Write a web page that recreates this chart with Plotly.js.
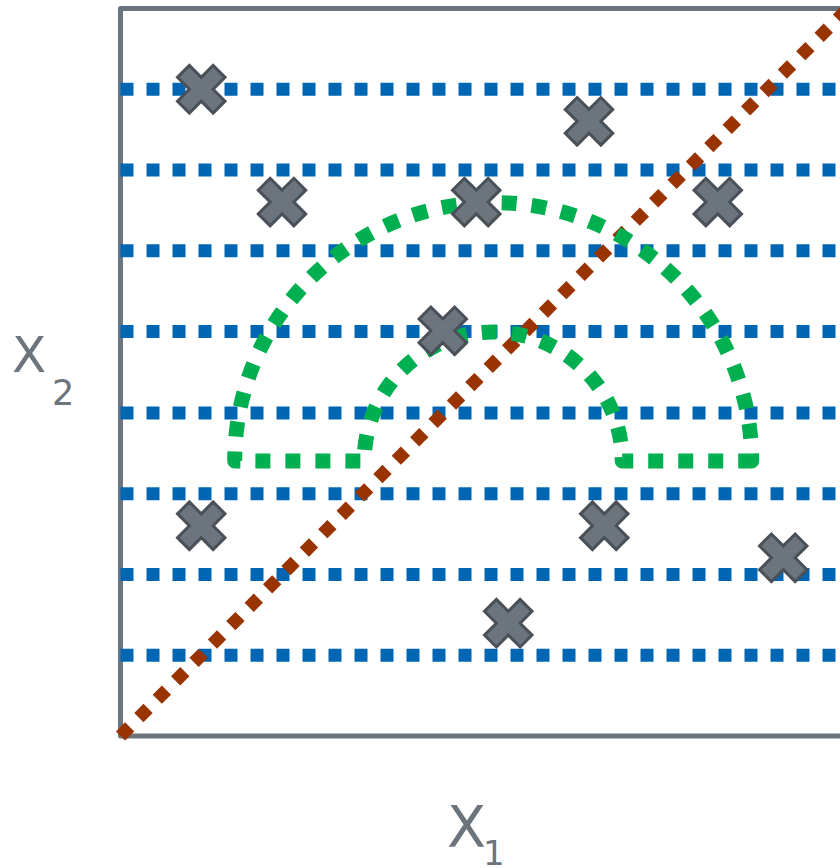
<!DOCTYPE html>
<html><head><meta charset="utf-8">
<script src="https://cdn.plot.ly/plotly-3.0.1.min.js"></script>
<style>
html,body{margin:0;padding:0;overflow:hidden;background:#fff;}
#chart{width:870px;height:868px;}
.shapelayer path{stroke-linejoin:round;}
</style></head><body><div id="chart"></div>
<script>
// Horizontal dotted levels (x2 values)
const levelY = [0.111, 0.222, 0.333, 0.444, 0.556, 0.667, 0.778, 0.889];
// Sample points (x1, x2)
const pointsX = [0.111, 0.644, 0.222, 0.489, 0.821, 0.443, 0.111, 0.665, 0.911, 0.533];
const pointsY = [0.889, 0.845, 0.734, 0.734, 0.734, 0.557, 0.289, 0.289, 0.245, 0.155];
// Diagonal boundary
const diagX = [0, 1];
const diagY = [0, 1];
// Half-annulus boundary: centre and radii (outer, inner)
const arcCenterX = 0.5123;
const arcCenterY = 0.378;
const arcRadii = [0.3553, 0.1773];
// Axis title texts: main letter and subscript
const xTitle = ['X', '1'];
const yTitle = ['X', '2'];

const GRAY = '#6c757d';
const FONT = '"DejaVu Sans", sans-serif';
const W = 870, H = 868, ML = 106, MB = 118, MT = 0, MR = 0;
const U = 727.5; // pixels per unit
const xRange = [(ML - 120.5) / U, (W - 120.5) / U];
const yRange = [(736 - (H - MB)) / U, 736 / U];

function semiAnnulus(cx, cy, R, r, lead) {
  const k = 0.5523;
  const P = (x, y) => x.toFixed(5) + ',' + y.toFixed(5);
  return 'M' + P(cx + R - lead, cy) + ' L' + P(cx + R, cy) +
    ' C' + P(cx + R, cy + k * R) + ' ' + P(cx + k * R, cy + R) + ' ' + P(cx, cy + R) +
    ' C' + P(cx - k * R, cy + R) + ' ' + P(cx - R, cy + k * R) + ' ' + P(cx - R, cy) +
    ' L' + P(cx - r, cy) +
    ' C' + P(cx - r, cy + k * r) + ' ' + P(cx - k * r, cy + r) + ' ' + P(cx, cy + r) +
    ' C' + P(cx + k * r, cy + r) + ' ' + P(cx + r, cy + k * r) + ' ' + P(cx + r, cy) +
    ' L' + P(cx + R - lead, cy);
}

const shapes = [];
shapes.push({type: 'rect', xref: 'x', yref: 'y', x0: diagX[0], x1: diagX[1], y0: diagY[0], y1: diagY[1],
  line: {color: GRAY, width: 5}, fillcolor: 'rgba(0,0,0,0)', layer: 'below'});
levelY.forEach(v => shapes.push({type: 'line', xref: 'x', yref: 'y', x0: diagX[0], x1: diagX[1], y0: v, y1: v,
  line: {color: '#0066b3', width: 13, dash: 'dot'}, layer: 'below'}));
shapes.push({type: 'line', xref: 'x', yref: 'y', x0: diagX[0], y0: diagY[0], x1: diagX[1], y1: diagY[1],
  line: {color: '#993300', width: 13, dash: 'dot'}, layer: 'below'});
shapes.push({type: 'path', xref: 'x', yref: 'y',
  path: semiAnnulus(arcCenterX, arcCenterY, arcRadii[0], arcRadii[1], 7.5 / U),
  line: {color: '#00b050', width: 15, dash: 'dot'}, fillcolor: 'rgba(0,0,0,0)', layer: 'below'});

const pw = W - ML - MR, ph = H - MT - MB;
const px = v => (v - ML) / pw;
const py = v => (H - MB - v) / ph;
const ann = (text, x, y, size) => ({text, xref: 'paper', yref: 'paper', x: px(x), y: py(y),
  xanchor: 'center', yanchor: 'middle', showarrow: false,
  font: {family: FONT, size, color: GRAY}});

const layout = {
  width: W, height: H,
  margin: {l: ML, r: MR, t: MT, b: MB, pad: 0},
  paper_bgcolor: '#fff', plot_bgcolor: '#fff',
  showlegend: false,
  xaxis: {range: xRange, visible: false, fixedrange: true},
  yaxis: {range: yRange, visible: false, fixedrange: true},
  shapes,
  annotations: [
    ann(xTitle[0], 466.5, 826.5, 57),
    ann(xTitle[1], 494, 853, 34),
    ann(yTitle[0], 28.5, 355, 50),
    ann(yTitle[1], 62.5, 393, 35)
  ]
};

const traces = [{
  type: 'scatter', mode: 'markers', x: pointsX, y: pointsY, cliponaxis: false,
  marker: {symbol: 'x', size: 42, color: GRAY, line: {color: '#495057', width: 3}},
  hoverinfo: 'skip'
}];

Plotly.newPlot('chart', traces, layout, {displayModeBar: false, staticPlot: true});
</script></body></html>
